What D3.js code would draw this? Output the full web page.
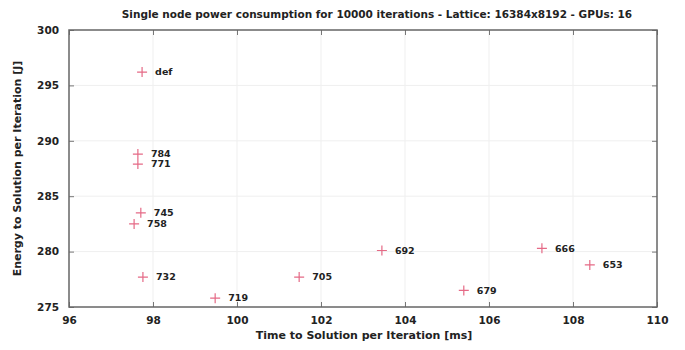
<!DOCTYPE html>
<html><head><meta charset="utf-8">
<script src="https://cdn.jsdelivr.net/npm/d3@7"></script>
<style>body{margin:0;background:#fff}svg{display:block}text{font-family:"DejaVu Sans",sans-serif;font-weight:bold;fill:#222}</style>
</head><body>
<svg id="c" width="685" height="350"></svg>
<script>
const labels = ["def","784","771","745","758","732","719","705","692","679","666","653"];
const timeMs = [97.74,97.64,97.64,97.71,97.55,97.76,99.48,101.48,103.45,105.40,107.26,108.40];
const energyJ = [296.2,288.8,287.9,283.5,282.5,277.7,275.8,277.7,280.1,276.5,280.3,278.8];
const xTicks = [96,98,100,102,104,106,108,110];
const yTicks = [275,280,285,290,295,300];
const title = "Single node power consumption for 10000 iterations - Lattice: 16384x8192 - GPUs: 16";
const xLabel = "Time to Solution per Iteration [ms]";
const yLabel = "Energy to Solution per Iteration [J]";

const svg = d3.select("#c");
const L=69,R=657,T=30,B=307;
const x = d3.scaleLinear().domain([96,110]).range([L,R]);
const y = d3.scaleLinear().domain([275,300]).range([B,T]);

// grid
svg.append("g").selectAll("line").data(xTicks.slice(1,-1)).join("line")
  .attr("x1",d=>x(d)).attr("x2",d=>x(d)).attr("y1",T).attr("y2",B)
  .attr("stroke","#efefef").attr("stroke-width",1);
svg.append("g").selectAll("line").data(yTicks.slice(1,-1)).join("line")
  .attr("y1",d=>y(d)).attr("y2",d=>y(d)).attr("x1",L).attr("x2",R)
  .attr("stroke","#efefef").attr("stroke-width",1);

// axes
const ax = svg.append("g").attr("transform",`translate(0,${B})`)
  .call(d3.axisBottom(x).tickValues(xTicks).tickSize(-5).tickPadding(10).tickFormat(d3.format("d")));
const ay = svg.append("g").attr("transform",`translate(${L},0)`)
  .call(d3.axisLeft(y).tickValues(yTicks).tickSize(-5).tickPadding(10).tickFormat(d3.format("d")));
const at = svg.append("g").attr("transform",`translate(0,${T})`)
  .call(d3.axisTop(x).tickValues(xTicks).tickSize(-5).tickFormat(""));
const ar = svg.append("g").attr("transform",`translate(${R},0)`)
  .call(d3.axisRight(y).tickValues(yTicks).tickSize(-5).tickFormat(""));
[ax,ay,at,ar].forEach(g=>{
  g.select(".domain").remove();
  g.selectAll(".tick line").attr("stroke","#777").attr("stroke-width",1);
  g.selectAll(".tick text").attr("font-size","10.5px").attr("fill","#333")
   .style("font-family","'DejaVu Sans',sans-serif").style("font-weight","bold");
});
svg.append("rect").attr("x",L).attr("y",T).attr("width",R-L).attr("height",B-T)
  .attr("fill","none").attr("stroke","#666").attr("stroke-width",1.5);

// points
const pts = svg.append("g").selectAll("g").data(labels).join("g")
  .attr("transform",(d,i)=>`translate(${x(timeMs[i])},${y(energyJ[i])})`);
pts.append("path").attr("d","M-5,0H5M0,-5V5").attr("stroke","#e56a86").attr("stroke-width",1.2);
pts.append("text").attr("x",13).attr("dy","0.35em").attr("font-size","9.5px").attr("fill","#333").text(d=>d);

// titles
svg.append("text").attr("x",377).attr("y",18).attr("text-anchor","middle").attr("font-size","10.5px").text(title);
svg.append("text").attr("x",364).attr("y",339).attr("text-anchor","middle").attr("font-size","11px").text(xLabel);
svg.append("text").attr("transform",`translate(21,${(T+B)/2}) rotate(-90)`).attr("text-anchor","middle").attr("font-size","11px").text(yLabel);
</script>
</body></html>
